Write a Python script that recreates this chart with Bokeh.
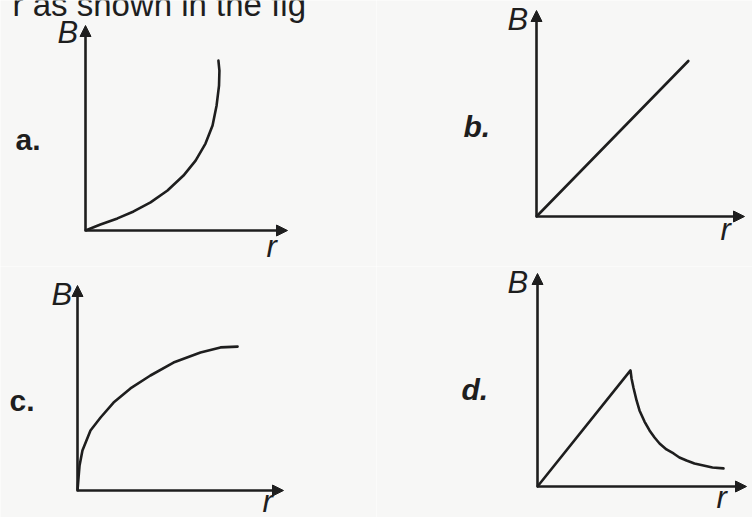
from bokeh.plotting import figure
from bokeh.layouts import column, row
from bokeh.models import Range1d, Arrow, NormalHead
from bokeh.core.properties import value
from bokeh.embed import file_html
from bokeh.resources import INLINE

# ---- data (axis units: each axis is 10 units long) ----
a_r = [0, 0.74, 1.58, 2.38, 3.22, 4.06, 4.85, 5.45, 5.94, 6.29, 6.49, 6.61, 6.63, 6.58]
a_B = [0, 0.29, 0.59, 0.93, 1.37, 1.95, 2.68, 3.41, 4.24, 5.12, 6.10, 7.07, 7.80, 8.29]

b_r = [0, 7.3]
b_B = [0, 7.55]

c_r = [0, 0.05, 0.10, 0.24, 0.63, 1.12, 1.75, 2.57, 3.54, 4.66, 5.97, 6.94, 7.77]
c_B = [0, 0.63, 1.22, 1.95, 2.93, 3.56, 4.29, 4.98, 5.61, 6.24, 6.73, 6.98, 7.02]

d_r = [0, 4.45, 4.50, 4.59, 4.74, 4.88, 5.12, 5.36, 5.60, 5.84, 6.17, 6.51, 6.79, 7.13,
       7.51, 7.94, 8.37, 8.90]
d_B = [0, 5.45, 5.07, 4.65, 4.04, 3.57, 3.05, 2.63, 2.30, 2.02, 1.74, 1.55, 1.36, 1.22,
       1.08, 0.99, 0.89, 0.85]

panel_letters = ["a.", "b.", "c.", "d."]
axis_x_label = "r"
axis_y_label = "B"
header_text = "r as shown in the fig"

# ---- layout / style ----
BG = "#f7f7f6"
INK = "#1e1e1e"
FONT = "Liberation Sans"
AXIS_LEN = 10
TEXT_SHIFT = 11  # px correction for the svg text baseline
ROW_SPLIT = 266

# frame: (left, top, width, height) in page px; origin (px), px per unit (x, y)
panels = [
    dict(box=(0, 0, 376, ROW_SPLIT), origin=(85, 230), scale=(20.2, 20.5),
         B_pos=(57, 43), r_pos=(266, 257), L_pos=(15, 150), L_style="bold"),
    dict(box=(376, 0, 376, ROW_SPLIT), origin=(536, 216), scale=(20.8, 20.6),
         B_pos=(507, 30), r_pos=(720, 240), L_pos=(463, 137), L_style="bold italic"),
    dict(box=(0, ROW_SPLIT, 376, 517 - ROW_SPLIT), origin=(77, 490), scale=(20.6, 20.5),
         B_pos=(51, 305), r_pos=(262, 512), L_pos=(9, 411), L_style="bold"),
    dict(box=(376, ROW_SPLIT, 376, 517 - ROW_SPLIT), origin=(537, 486), scale=(20.9, 21.3),
         B_pos=(507, 293), r_pos=(716, 508), L_pos=(461, 400), L_style="bold italic"),
]
series = [(a_r, a_B), (b_r, b_B), (c_r, c_B), (d_r, d_B)]


def to_local(spec, px, py):
    ox, oy = spec["origin"]
    sx, sy = spec["scale"]
    return (px - ox) / sx, (oy - py) / sy


def add_text(p, spec, pos, txt, size, style):
    tx, ty = to_local(spec, pos[0], pos[1] - TEXT_SHIFT)
    p.text(x=[tx], y=[ty], text=[txt], text_font=value(FONT), text_font_size=size,
           text_font_style=style, text_color=INK, text_baseline="alphabetic", text_align="left")


def make_panel(i):
    spec = panels[i]
    fx, fy, w, h = spec["box"]
    x0, y1 = to_local(spec, fx, fy)
    x1, y0 = to_local(spec, fx + w, fy + h)
    p = figure(width=w, height=h, x_range=Range1d(x0, x1), y_range=Range1d(y0, y1),
               x_axis_type=None, y_axis_type=None, toolbar_location=None,
               output_backend="svg", min_border=0, outline_line_color=None,
               background_fill_color=BG, border_fill_color=BG)
    p.xgrid.visible = False
    p.ygrid.visible = False
    # axes with arrow heads
    for xe, ye in [(AXIS_LEN, 0), (0, AXIS_LEN)]:
        p.add_layout(Arrow(x_start=0, y_start=0, x_end=xe, y_end=ye,
                           line_color=INK, line_width=2.6,
                           end=NormalHead(size=11, fill_color=INK, line_color=INK, line_width=1)))
    r, B = series[i]
    p.line(r, B, line_color=INK, line_width=2.6, line_join="round", line_cap="round")
    # labels
    add_text(p, spec, spec["B_pos"], axis_y_label, "31px", "italic")
    add_text(p, spec, spec["r_pos"], axis_x_label, "31px", "italic")
    add_text(p, spec, spec["L_pos"], panel_letters[i], "30px", spec["L_style"])
    if i == 0:
        add_text(p, spec, (12, 15), header_text, "33px", "normal")
    return p


figs = [make_panel(i) for i in range(4)]
layout = column(row(figs[0], figs[1], spacing=0), row(figs[2], figs[3], spacing=0), spacing=0)

open("out.html", "w").write(file_html(layout, INLINE))
